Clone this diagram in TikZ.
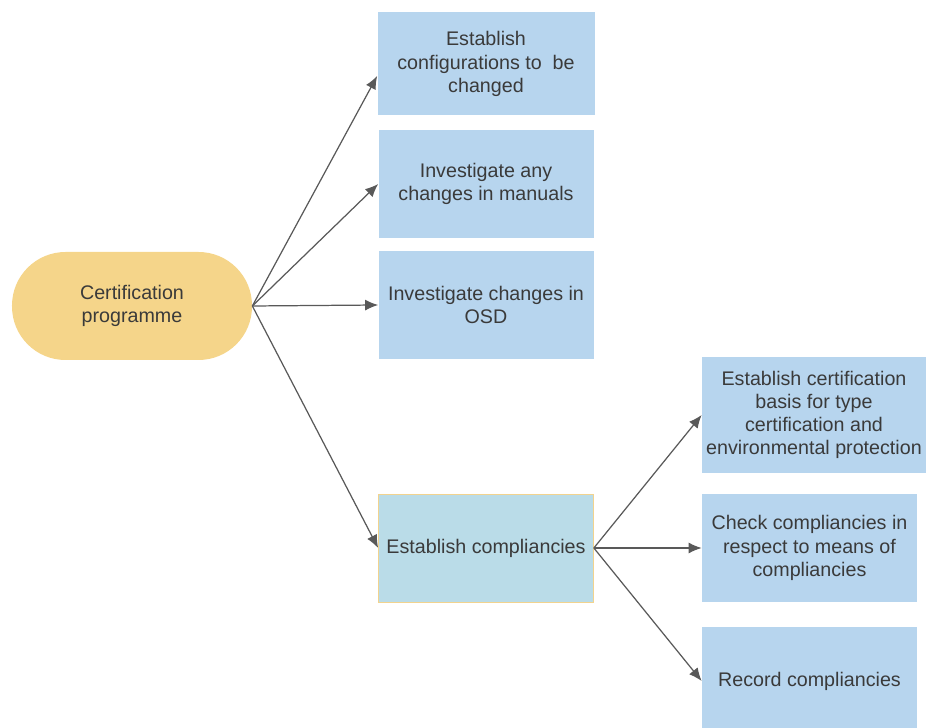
\documentclass[tikz,border=0pt]{standalone}
\usepackage{fontspec}
\setmainfont{Liberation Sans}
\usepackage{xcolor}
\usepackage{tikz}
\usetikzlibrary{shapes.geometric, arrows, arrows.meta, positioning, calc}

\definecolor{taskblue}{HTML}{B7D5EE}
\definecolor{mainblue}{HTML}{BADCE8}
\definecolor{startyellow}{HTML}{F5D58A}
\definecolor{edgeyellow}{HTML}{F2D38E}
\definecolor{linegray}{HTML}{595959}
\definecolor{textgray}{HTML}{3A3A3A}

\begin{document}
\begin{tikzpicture}[node distance=2cm,
  font=\fontsize{11.2}{13.2}\selectfont, text=textgray,
  task/.style={rectangle, fill=taskblue, text centered, align=center, minimum width=4.3cm, minimum height=2.16cm, inner sep=0pt},
  start/.style={rectangle, rounded corners=1.07cm, fill=startyellow, align=center, minimum width=4.8cm, minimum height=2.16cm},
  link/.style={draw=linegray, line width=0.7pt, -{Latex[length=2.6mm, width=2.2mm]}}]
\useasboundingbox (0,0) rectangle (18.52,-14.56);

\node (cert)[start] at (2.64,-6.12) {Certification\\programme};

\node (cfg)[task, right of = cert, xshift=5.08cm, yshift=4.84cm, minimum width=4.34cm, minimum height=2.06cm] {Establish\\configurations to\ \ be\\changed};
\node (manuals)[task, below of = cfg, yshift=-0.4cm] {Investigate any\\changes in manuals};
\node (osd)[task, below of = manuals, yshift=-0.42cm] {Investigate changes in\\OSD};
\node (compl)[task, fill=mainblue, draw=edgeyellow, below of = osd, yshift=-2.86cm] {Establish compliancies};

\node (check)[task, right of = compl, xshift=4.47cm] {Check compliancies in\\respect to means of\\compliancies};
\node (basis)[task, above of = check, xshift=0.09cm, yshift=0.66cm, minimum width=4.48cm, minimum height=2.32cm] {Establish certification\\basis for type\\certification and\\environmental protection};
\node (record)[task, below of = check, yshift=-0.66cm] {Record compliancies};


\draw[link] (cert.east) -- ([yshift=-0.24cm]cfg.west);
\draw[link] (cert.east) -- (manuals.west);
\draw[link] (cert.east) -- (osd.west);
\draw[link] (cert.east) -- (compl.west);

\draw[link] (compl.east) -- (basis.west);
\draw[link] (compl.east) -- (check.west);
\draw[link] (compl.east) -- (record.west);

\end{tikzpicture}
\end{document}
